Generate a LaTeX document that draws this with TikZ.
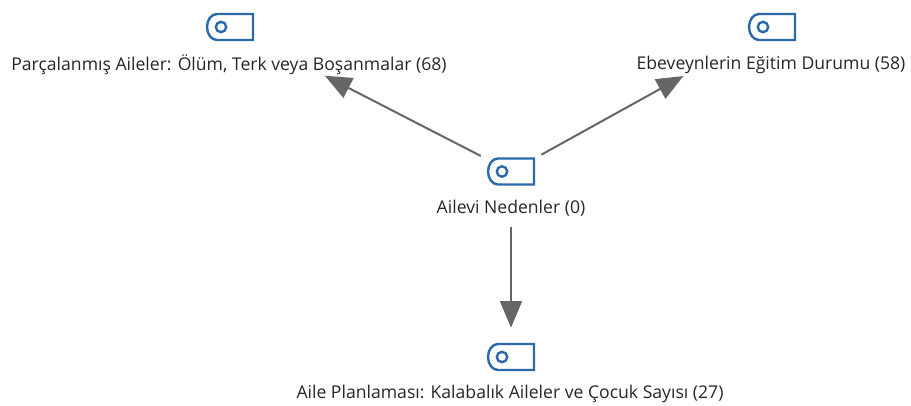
\documentclass[tikz,border=0pt]{standalone}
\usepackage{fontspec}
\usepackage{tikz}
\usepackage{xcolor}
\usetikzlibrary{arrows.meta}
\setmainfont{Open Sans}
\definecolor{tagblue}{HTML}{2A69AC}
\definecolor{linkgray}{HTML}{666666}
\definecolor{labelgray}{HTML}{262626}
\tikzset{
    x=0.75pt, y=-0.75pt,
    tag-icon/.style = {rectangle, minimum width=37.5pt, minimum height=25.5pt, inner sep=0pt},
    tag-line/.style = {draw=tagblue, line width=1.8pt},
    tag-label/.style = {text=labelgray, font=\fontsize{13.2pt}{15pt}\selectfont, inner sep=0pt},
    link/.style = {draw=linkgray, line width=1.5pt, -{Triangle[length=20pt, width=16.5pt, fill=linkgray]}},
}
\newcommand{\tagat}[1]{
    \draw[tag-line] ([shift={(-23,-13)}]#1.center) ++(46,0) -- ++(0,26) -- ++(-36,0)
        arc[start angle=-90, end angle=-270, x radius=10, y radius=-13] -- cycle;
    \draw[tag-line] ([shift={(-9,0)}]#1.center) circle[radius=5.2];
}
\begin{document}
\begin{tikzpicture}
\useasboundingbox (0,0) rectangle (911,406);
\node[tag-icon] (ailevi) at (511,171.5) {};
\node[tag-icon] (parcalanmis) at (230,27) {};
\node[tag-icon] (egitim) at (772,27) {};
\node[tag-icon] (planlama) at (511,357) {};
\node[tag-label] (ailevi-label) at (511,208.5) {Ailevi Nedenler (0)};
\node[tag-label] (parcalanmis-label) at (229,64.5) {Parçalanmış Aileler: Ölüm, Terk veya Boşanmalar (68)};
\node[tag-label] (egitim-label) at (771,64.5) {Ebeveynlerin Eğitim Durumu (58)};
\node[tag-label] (planlama-label) at (510,393.5) {Aile Planlaması: Kalabalık Aileler ve Çocuk Sayısı (27)};
\tagat{ailevi}
\tagat{parcalanmis}
\tagat{egitim}
\tagat{planlama}
\draw[link, shorten <=25.5pt, shorten >=80pt] (ailevi.center) -- (parcalanmis.center);
\draw[link, shorten <=26pt, shorten >=76pt] (ailevi.center) -- (egitim.center);
\draw[link, shorten <=41.6pt, shorten >=22pt] (ailevi.center) -- (planlama.center);
\end{tikzpicture}
\end{document}
